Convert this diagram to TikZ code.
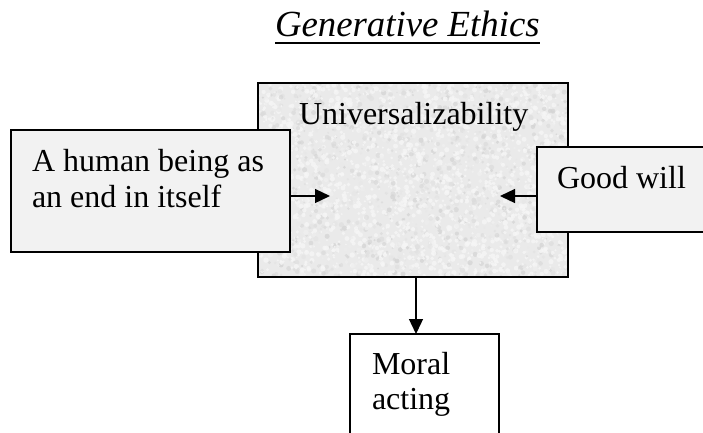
\documentclass[tikz,border=0pt]{standalone}
\usepackage{fontspec}
\setmainfont{Liberation Serif}
\usetikzlibrary{arrows.meta}

\definecolor{panel}{HTML}{F2F2F2}
\definecolor{granite}{HTML}{EAEAEA}
\definecolor{speckhi}{HTML}{F6F6F6}

\tikzset{
  box/.style={draw=black, line width=1.6pt, inner sep=0pt, outer sep=0pt},
  label/.style={inner sep=0pt, outer sep=0pt, anchor=base west,
                font=\fontsize{32}{36}\selectfont},
  flow/.style={draw=black, line width=1.3pt,
               -{Triangle[length=15pt,width=14pt]}},
}

\begin{document}
\begin{tikzpicture}[x=1pt, y=-1pt]
  \useasboundingbox (0,0) rectangle (703,432);
  \clip (0,0) rectangle (703,432);

  % title
  \node[inner sep=0pt, outer sep=0pt, anchor=base west,
        font=\fontsize{36.8}{40}\selectfont\itshape] (title) at (275,36) {Generative Ethics};
  \draw[line width=2pt] ([yshift=-7pt]title.base west) -- ([yshift=-7pt]title.base east);

  % central box with a soft speckled granite fill
  \node[fill=granite, minimum width=310pt, minimum height=194pt, inner sep=0pt] (u) at (413,180) {};
  \begin{scope}
    \clip (u.north west) rectangle (u.south east);
    \pgfmathsetseed{11}
    \foreach \k in {1,...,3400}{
      \pgfmathsetmacro\px{258+310*rnd}
      \pgfmathsetmacro\py{83+194*rnd}
      \pgfmathsetmacro\sh{5+13*rnd}
      \pgfmathsetmacro\rr{0.9+1.8*rnd}
      \pgfmathparse{rnd<0.5 ? 1 : 0}
      \ifnum\pgfmathresult=1
        \fill[speckhi, opacity=0.8] (\px,\py) circle[radius=\rr pt];
      \else
        \fill[black!\sh, opacity=0.7] (\px,\py) circle[radius=\rr pt];
      \fi
    }
  \end{scope}
  \draw[box] (u.north west) rectangle (u.south east);
  \node[label] (ut) at (299,124) {Universalizability};

  % side boxes
  \node[box, fill=panel, minimum width=279pt, minimum height=122pt] (l) at (150.5,191) {};
  \node[label] (l1) at (32,171) {A human being as};
  \node[label] (l2) at (32,207) {an end in itself};

  \node[box, fill=panel, minimum width=243pt, minimum height=85pt] (r) at (658.5,189.5) {};
  \node[label] (rt) at (557,188) {Good will};

  % result box
  \node[box, fill=white, minimum width=149pt, minimum height=136pt] (m) at (424.5,402) {};
  \node[label] (m1) at (372,374) {Moral};
  \node[label] (m2) at (372,409) {acting};

  % connectors
  \coordinate (ltip) at (330,196);
  \coordinate (rtip) at (500,196);
  \coordinate (dx) at (416,0);
  \draw[flow] (l.east |- ltip) -- (ltip);
  \draw[flow] (r.west |- rtip) -- (rtip);
  \draw[flow] (u.south -| dx) -- (m.north -| dx);
\end{tikzpicture}
\end{document}
